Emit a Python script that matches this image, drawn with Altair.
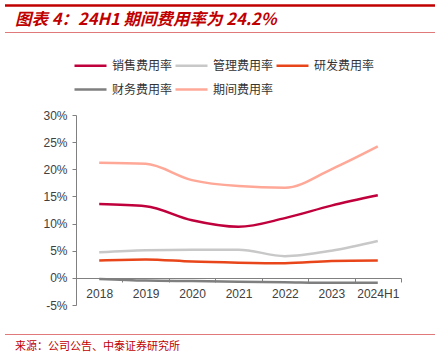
import altair as alt
import pandas as pd

years = ["2018", "2019", "2020", "2021", "2022", "2023", "2024H1"]
series_names = ["销售费用率", "管理费用率", "研发费用率", "财务费用率", "期间费用率"]
sales = [13.6, 13.2, 10.6, 9.4, 11.0, 13.3, 15.2]
admin = [4.7, 5.1, 5.2, 5.2, 4.0, 5.0, 6.8]
rnd = [3.2, 3.4, 3.0, 2.8, 2.7, 3.1, 3.2]
finance = [-0.2, -0.5, -0.6, -0.7, -0.8, -0.9, -0.9]
period = [21.2, 21.0, 18.0, 16.9, 16.6, 20.0, 24.2]
colors = ["#C0003C", "#C8C8C8", "#E8461A", "#7F7F7F", "#FFA898"]

rows = []
for name, vals in zip(series_names, [sales, admin, rnd, finance, period]):
    for y, v in zip(years, vals):
        rows.append({"year": y, "series": name, "value": v})
df = pd.DataFrame(rows)

W, H = 325, 190
PL, PT = 76, 115

lines = alt.Chart(df).mark_line(interpolate="monotone", strokeWidth=2.5).encode(
    x=alt.X("year:N", sort=years, title=None,
            axis=alt.Axis(labelAngle=0, offset=-27, tickBand="extent", domainColor="#808080",
                          tickColor="#808080", tickSize=4, labelPadding=6,
                          labelFont="Liberation Sans", labelFontSize=12, labelColor="#404040")),
    y=alt.Y("value:Q", title=None, scale=alt.Scale(domain=[-5, 30], nice=False),
            axis=alt.Axis(values=[-5, 0, 5, 10, 15, 20, 25, 30], labelExpr="datum.value + '%'",
                          grid=False, domainColor="#808080", tickColor="#808080", tickSize=4,
                          labelPadding=5, labelFont="Liberation Sans", labelFontSize=12,
                          labelColor="#404040")),
    color=alt.Color("series:N", sort=series_names,
                    scale=alt.Scale(domain=series_names, range=colors),
                    legend=alt.Legend(title=None, orient="none", legendX=-3, legendY=-67,
                                      direction="horizontal",
                                      columns=3, symbolType="stroke", symbolSize=1024,
                                      symbolStrokeWidth=2.5, labelFont="Noto Sans CJK SC",
                                      labelFontSize=12, labelColor="#333333", columnPadding=-3,
                                      rowPadding=0, padding=0, labelOffset=4)),
    order=alt.Order("series:N", sort="ascending"),
)

one = pd.DataFrame({"k": [0]})

def rule(x1, x2, y, color, width):
    return alt.Chart(one).mark_rule(color=color, strokeWidth=width).encode(
        x=alt.value(x1 - PL), x2=alt.value(x2 - PL), y=alt.value(y - PT))

top_rule = rule(5, 435, 5.5, "#C00000", 2.5)
mid_rule = rule(5, 435, 32.5, "#E07A7A", 1)
bot_rule = rule(5, 435, 334.5, "#E07A7A", 1)

title = alt.Chart(one).mark_text(
    text="图表 4：24H1 期间费用率为 24.2%", align="left", baseline="middle",
    font="Noto Sans CJK SC", fontSize=16.5, fontStyle="italic", fontWeight="bold", color="#C00000"
).encode(x=alt.value(15 - PL), y=alt.value(20 - PT))

source = alt.Chart(one).mark_text(
    text="来源：公司公告、中泰证券研究所", align="left", baseline="middle",
    font="Noto Sans CJK SC", fontSize=11, color="#C00000"
).encode(x=alt.value(15 - PL), y=alt.value(347 - PT))

chart = alt.layer(lines, top_rule, mid_rule, bot_rule, title, source).properties(
    width=W, height=H, autosize="none",
    padding={"left": PL, "top": PT, "right": 435 - PL - W, "bottom": 352 - PT - H},
).configure_view(stroke=None)

chart.save("out.html", embed_options={"renderer": "svg", "actions": False})
